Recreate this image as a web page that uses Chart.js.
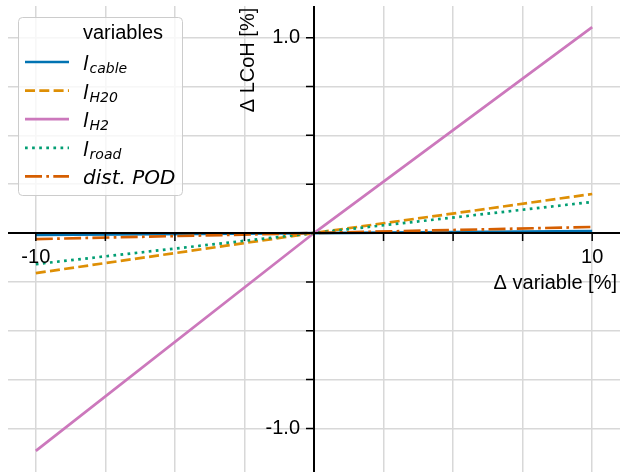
<!DOCTYPE html>
<html lang="en">
<head>
<meta charset="UTF-8">
<title>Sensitivity | LCoH</title>
<script src="https://cdn.jsdelivr.net/npm/chart.js"></script>
<style>
  html, body { margin: 0; padding: 0; background: #fff; }
</style>
</head>
<body>
<canvas id="myChart" width="620" height="473"></canvas>
<script>
// values
const variation = [-10, 0, 10];            // Δ variable [%]
const lCable = [-0.01, 0, 0.01];           // Δ LCoH [%]
const lH2O = [-0.205, 0, 0.2];
const lH2 = [-1.115, 0, 1.054];
const lRoad = [-0.159, 0, 0.159];
const distPOD = [-0.031, 0, 0.031];

const xGridTicks = [-10, -7.5, -5, -2.5, 0, 2.5, 5, 7.5, 10];
const yGridTicks = [-1.0, -0.75, -0.5, -0.25, 0, 0.25, 0.5, 0.75, 1.0];
const xTickLabels = [-10, 10];
const yTickLabels = [-1.0, 1.0];

// legend text: italic main part + subscript
const legendMain = ['l', 'l', 'l', 'l', 'dist. POD'];
const legendSub = ['cable', 'H20', 'H2', 'road', ''];

const toPoints = vals => variation.map((v, i) => ({ x: v, y: vals[i] }));

const series = [
    { data: lCable, color: '#0173b2', dash: [], order: 5 },
    { data: lH2O, color: '#de8f05', dash: [10, 4.3], order: 4 },
    { data: lH2, color: '#cc78bc', dash: [], order: 3 },
    { data: lRoad, color: '#029e73', dash: [2.7, 4.4], order: 2 },
    { data: distPOD, color: '#d55e00', dash: [17, 4.3, 2.7, 4.3], order: 1 }
];

// axes through the origin, ticks and labels
const centerAxes = {
    id: 'centerAxes',
    afterDatasetsDraw(chart) {
        const { ctx, chartArea, scales: { x, y } } = chart;
        const x0 = x.getPixelForValue(0);
        const y0 = y.getPixelForValue(0);
        ctx.save();
        ctx.strokeStyle = '#000';
        ctx.lineWidth = 2;
        ctx.beginPath();
        ctx.moveTo(chartArea.left, y0);
        ctx.lineTo(chartArea.right, y0);
        ctx.moveTo(x0, chartArea.top);
        ctx.lineTo(x0, chartArea.bottom);
        ctx.stroke();

        ctx.lineWidth = 1.5;
        ctx.beginPath();
        xGridTicks.forEach(v => {
            const px = x.getPixelForValue(v);
            ctx.moveTo(px, y0);
            ctx.lineTo(px, y0 + 8);
        });
        yGridTicks.forEach(v => {
            const py = y.getPixelForValue(v);
            ctx.moveTo(x0, py);
            ctx.lineTo(x0 - 8, py);
        });
        ctx.stroke();

        ctx.fillStyle = '#000';
        ctx.font = '20px "Liberation Sans", Arial, sans-serif';
        ctx.textBaseline = 'middle';
        ctx.textAlign = 'center';
        xTickLabels.forEach(v => ctx.fillText(String(v), x.getPixelForValue(v), y0 + 24));
        ctx.textAlign = 'right';
        yTickLabels.forEach(v => ctx.fillText(v.toFixed(1), x0 - 14, y.getPixelForValue(v)));

        // axis titles
        ctx.fillText('Δ variable [%]', chartArea.right - 3, y0 + 50);
        ctx.translate(x0 - 66, chartArea.top + 54);
        ctx.rotate(-Math.PI / 2);
        ctx.textAlign = 'center';
        ctx.fillText('Δ LCoH [%]', 0, 0);
        ctx.restore();
    },
    afterDraw(chart) {
        const ctx = chart.ctx;
        ctx.save();
        // legend frame
        ctx.fillStyle = 'rgba(255,255,255,0.8)';
        ctx.strokeStyle = '#cccccc';
        ctx.lineWidth = 1;
        ctx.beginPath();
        ctx.roundRect(18.5, 17.5, 164, 178, 4);
        ctx.fill();
        ctx.stroke();

        ctx.fillStyle = '#000';
        ctx.font = '20px "Liberation Sans", Arial, sans-serif';
        ctx.textBaseline = 'middle';
        ctx.textAlign = 'left';
        ctx.fillText('variables', 83, 33);

        ctx.textBaseline = 'alphabetic';
        series.forEach((s, i) => {
            const hy = 62 + i * 28.6;
            ctx.strokeStyle = s.color;
            ctx.lineWidth = 2.7;
            ctx.setLineDash(s.dash);
            ctx.beginPath();
            ctx.moveTo(25, hy);
            ctx.lineTo(69, hy);
            ctx.stroke();
            ctx.setLineDash([]);

            ctx.font = 'italic 20px "DejaVu Sans", sans-serif';
            ctx.fillText(legendMain[i], 83, hy + 8);
            if (legendSub[i]) {
                const w = ctx.measureText(legendMain[i]).width;
                ctx.font = 'italic 14px "DejaVu Sans", sans-serif';
                ctx.fillText(legendSub[i], 83 + w + 1, hy + 11);
            }
        });
        ctx.restore();
    }
};

const gridOpts = { color: '#d8d8d8', lineWidth: 1.5, drawTicks: false };

window.myChart = new Chart(document.getElementById('myChart').getContext('2d'), {
    type: 'line',
    data: {
        datasets: series.map((s, i) => ({
            label: legendMain[i] + legendSub[i],
            data: toPoints(s.data),
            borderColor: s.color,
            borderDash: s.dash,
            borderWidth: 2.7,
            pointRadius: 0,
            fill: false,
            tension: 0,
            order: s.order
        }))
    },
    options: {
        responsive: false,
        devicePixelRatio: 1,
        animation: false,
        layout: { padding: { left: 8, top: 6, right: 0, bottom: 1 } },
        plugins: { legend: { display: false }, tooltip: { enabled: false } },
        scales: {
            x: {
                type: 'linear',
                min: -11,
                max: 11,
                afterBuildTicks: s => { s.ticks = xGridTicks.map(v => ({ value: v })); },
                ticks: { display: false },
                grid: gridOpts,
                border: { display: false }
            },
            y: {
                type: 'linear',
                min: -1.223,
                max: 1.162,
                afterBuildTicks: s => { s.ticks = yGridTicks.map(v => ({ value: v })); },
                ticks: { display: false },
                grid: gridOpts,
                border: { display: false }
            }
        }
    },
    plugins: [centerAxes]
});
</script>
</body>
</html>
